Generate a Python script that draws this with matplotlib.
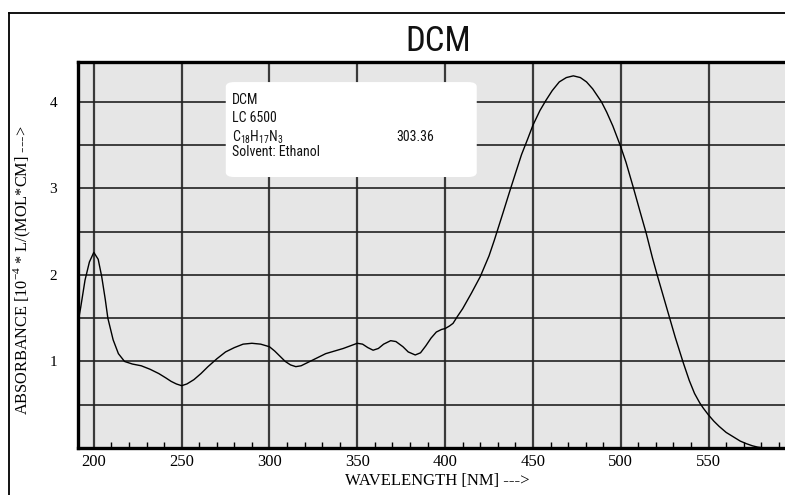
import matplotlib
matplotlib.use("Agg")
import matplotlib.pyplot as plt
from matplotlib import font_manager
from matplotlib.patches import FancyBboxPatch
from matplotlib.lines import Line2D

# ---------------- data ----------------
wavelength = [191, 192.5, 195, 197.5, 200, 202.5, 204.5, 206.5, 208, 211, 214, 217.5,
              222, 227, 232, 237, 241, 244, 247, 250, 253, 257, 261, 265, 270,
              275, 280, 285, 290, 295, 300, 303, 306, 309, 312, 315, 318, 323,
              328, 332, 337, 342, 346, 350, 353, 356, 359, 362, 365, 369, 372,
              376, 379, 383, 386, 389, 392, 395, 398, 400, 402.5, 404.5, 407, 410,
              415, 420, 425, 428, 433, 437, 440, 443.5, 447, 450, 454, 457.5, 461,
              465, 469, 473, 477, 480.5, 484, 489, 492, 495.5, 500, 503, 507, 511,
              514.5, 518, 521, 525, 528, 531, 535.5, 539, 542, 545, 547, 550,
              553, 556, 560, 564, 568, 571.5, 575, 578, 582, 586, 590, 594]
absorbance = [1.45, 1.62, 1.94, 2.15, 2.26, 2.18, 1.98, 1.72, 1.50, 1.25, 1.09, 1.00,
              0.97, 0.95, 0.91, 0.86, 0.81, 0.77, 0.74, 0.72, 0.74, 0.79, 0.86, 0.94, 1.03,
              1.11, 1.16, 1.20, 1.21, 1.20, 1.17, 1.12, 1.06, 1.00, 0.96, 0.94, 0.95, 1.00,
              1.05, 1.09, 1.12, 1.15, 1.18, 1.21, 1.20, 1.16, 1.13, 1.15, 1.20, 1.24, 1.23,
              1.17, 1.11, 1.075, 1.10, 1.18, 1.27, 1.34, 1.37, 1.38, 1.41, 1.44, 1.52, 1.61,
              1.79, 1.98, 2.22, 2.40, 2.72, 2.98, 3.17, 3.39, 3.57, 3.73, 3.90, 4.02, 4.13,
              4.23, 4.28, 4.30, 4.28, 4.23, 4.15, 4.00, 3.88, 3.72, 3.48, 3.30, 3.02, 2.73,
              2.48, 2.20, 1.98, 1.70, 1.49, 1.28, 0.99, 0.78, 0.63, 0.52, 0.46, 0.38,
              0.31, 0.25, 0.18, 0.13, 0.08, 0.05, 0.025, 0.01, 0.0, 0.0, 0.0, 0.0]

x_major = [200, 250, 300, 350, 400, 450, 500, 550]
y_major = [1, 2, 3, 4]
y_grid = [0.5, 1, 1.5, 2, 2.5, 3, 3.5, 4]
x_minor = list(range(200, 600, 10))

title_text = "DCM"
info_lines = ["DCM", "LC 6500",
              r"C$_{\mathregular{18}}$H$_{\mathregular{17}}$N$_{\mathregular{3}}$",
              "Solvent: Ethanol"]
info_value = "303.36"
xlabel_text = "WAVELENGTH [NM] --->"
ylabel_text = r"ABSORBANCE [10$^{\mathregular{-4}}$ * L/(MOL*CM] --->"

# ---------------- fonts ----------------
avail = {f.name for f in font_manager.fontManager.ttflist}
serif = "Liberation Serif" if "Liberation Serif" in avail else "DejaVu Serif"
narrow = "Liberation Sans Narrow" if "Liberation Sans Narrow" in avail else (
    "Roboto Condensed" if "Roboto Condensed" in avail else "Liberation Sans")

plt.rcParams["mathtext.fontset"] = "custom"
plt.rcParams["mathtext.rm"] = serif

# ---------------- figure ----------------
fig = plt.figure(figsize=(7.85, 4.95), dpi=100)
fig.patch.set_facecolor("white")
ax = fig.add_axes([78 / 785, 47 / 495, 707 / 785, 386 / 495])
ax.set_facecolor("#e6e6e6")

ax.set_xlim(191, 593.5)
ax.set_ylim(0, 4.46)

ax.set_xticks(x_major)
ax.set_xticks(x_minor, minor=True)
ax.set_yticks(y_major)
ax.set_yticks(y_grid, minor=True)

ax.set_axisbelow(True)
for xv in x_major:
    ax.axvline(xv, color="#3a3a3a", lw=1.6, zorder=0.5)
for yv in y_grid:
    ax.axhline(yv, color="#222222", lw=1.2, zorder=0.5)

ax.tick_params(axis="x", which="major", direction="in", length=0, pad=4.5)
ax.tick_params(axis="x", which="minor", direction="in", length=4, width=1, color="black")
ax.tick_params(axis="y", which="both", length=0)
ax.tick_params(axis="y", which="major", pad=15)
ax.set_xticklabels([str(v) for v in x_major], fontfamily=serif, fontsize=12)
ax.set_yticklabels([str(v) for v in y_major], fontfamily=serif, fontsize=11)

for side in ["left", "top", "bottom"]:
    ax.spines[side].set_linewidth(2.4)
    ax.spines[side].set_color("black")
ax.spines["right"].set_visible(False)

# info box
box = FancyBboxPatch((0.209, 0.702), 0.355, 0.246,
                     boxstyle="round,pad=0,rounding_size=0.012",
                     transform=ax.transAxes, facecolor="white", edgecolor="none",
                     zorder=1)
ax.add_patch(box)
ys = [0.902, 0.855, 0.806, 0.767]
for txt, yy in zip(info_lines, ys):
    ax.text(0.218, yy, txt, transform=ax.transAxes, fontsize=10,
            fontfamily=narrow, va="center", ha="left", color="#111111", zorder=3)
ax.text(0.450, 0.806, info_value, transform=ax.transAxes, fontsize=10,
        fontfamily=narrow, va="center", ha="left", color="#111111", zorder=3)

# curve
ax.plot(wavelength, absorbance, color="black", lw=1.0, zorder=2)

# labels
ax.set_xlabel(xlabel_text, fontfamily=serif, fontsize=12)
ax.xaxis.set_label_coords(0.508, -0.066)
ax.xaxis.label.set_va("top")
ax.set_ylabel(ylabel_text, fontfamily=serif, fontsize=11.7)
ax.yaxis.set_label_coords(-0.064, 0.461)

fig.text(438 / 785, 1 - 41.5 / 495, title_text, fontsize=25, fontfamily=narrow,
         ha="center", va="center", color="#111111")

# outer frame
fig.add_artist(Line2D([9 / 785, 1.0], [1 - 13 / 495, 1 - 13 / 495],
                      transform=fig.transFigure, color="black", lw=1.3))
fig.add_artist(Line2D([9 / 785, 9 / 785], [0, 1 - 13 / 495],
                      transform=fig.transFigure, color="black", lw=1.3))

fig.savefig("out.png", dpi=100)
